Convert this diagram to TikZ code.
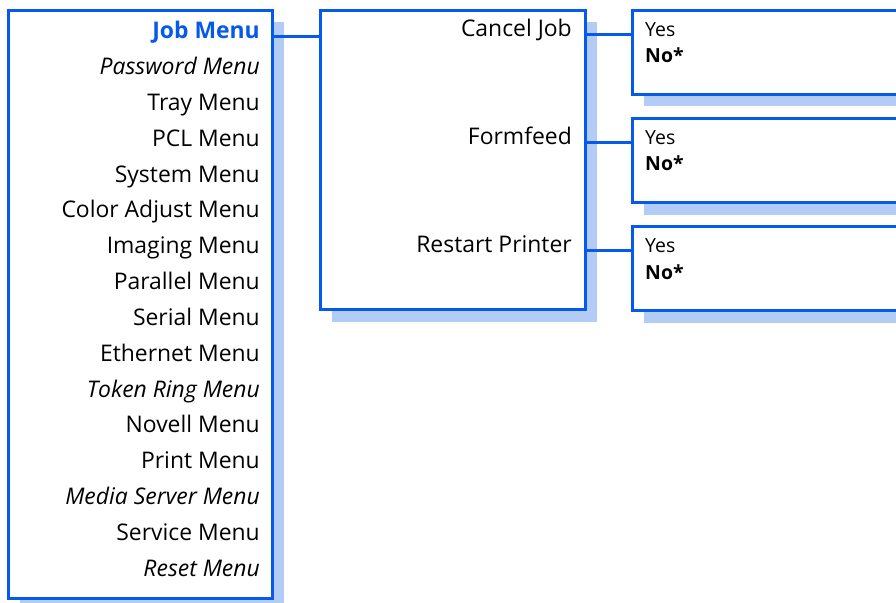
\documentclass[tikz,border=0pt]{standalone}
\usepackage{fontspec}
\setmainfont{Open Sans}
\usetikzlibrary{shadows}

\definecolor{menublue}{RGB}{5,90,235}
\definecolor{shadeblue}{RGB}{178,204,246}

\tikzset{
  menubox/.style={draw=menublue, line width=3bp, fill=white, anchor=north west, inner sep=0pt,
    drop shadow={fill=shadeblue, opacity=1, shadow xshift=11bp, shadow yshift=-12bp}},
  item/.style={anchor=base east, inner sep=0pt, font=\fontsize{23}{26}\selectfont},
  stditem/.style={},
  optitem/.style={font=\fontsize{23}{26}\selectfont\itshape},
  jobitem/.style={font=\fontsize{23}{26}\selectfont\bfseries, text=menublue},
  choice/.style={anchor=base west, inner sep=0pt, font=\fontsize{19.5}{22}\selectfont},
  link/.style={draw=menublue, line width=3bp}
}

\begin{document}
\begin{tikzpicture}[x=1bp,y=-1bp]
\useasboundingbox (0,0) rectangle (896,603);

% main menu
\node[menubox, minimum width=264bp, minimum height=588bp] (menu) at (7,9) {};
\foreach \name/\look [count=\i from 0] in {Job Menu/jobitem, Password Menu/optitem,
    Tray Menu/stditem, PCL Menu/stditem, System Menu/stditem, Color Adjust Menu/stditem,
    Imaging Menu/stditem, Parallel Menu/stditem, Serial Menu/stditem, Ethernet Menu/stditem,
    Token Ring Menu/optitem, Novell Menu/stditem, Print Menu/stditem,
    Media Server Menu/optitem, Service Menu/stditem, Reset Menu/optitem}
  \node[item,\look] (item\i) at (260,39+35.8*\i) {\name};

% job menu
\node[menubox, minimum width=265bp, minimum height=299bp] (jobbox) at (319,9) {};
\node[item] (cancel) at (572,37) {Cancel Job};
\node[item] (formfeed) at (572,145) {Formfeed};
\node[item] (restart) at (572,253) {Restart Printer};

% settings
\foreach \y/\nm in {9/cancelset,117/formset,225/restartset}{
  \node[menubox, minimum width=290bp, minimum height=84bp] (\nm) at (631,\y) {};
  \node[choice] (\nm yes) at (645,\y+28) {Yes};
  \node[choice,font=\fontsize{19.5}{22}\selectfont\bfseries] (\nm no) at (645,\y+54) {No*};
}

\draw[link] (menu.east |- item0.mid) -- (jobbox.west |- item0.mid);
\draw[link] (jobbox.east |- cancel.mid) -- (cancelset.west |- cancel.mid);
\draw[link] (jobbox.east |- formfeed.mid) -- (formset.west |- formfeed.mid);
\draw[link] (jobbox.east |- restart.mid) -- (restartset.west |- restart.mid);
\end{tikzpicture}
\end{document}
